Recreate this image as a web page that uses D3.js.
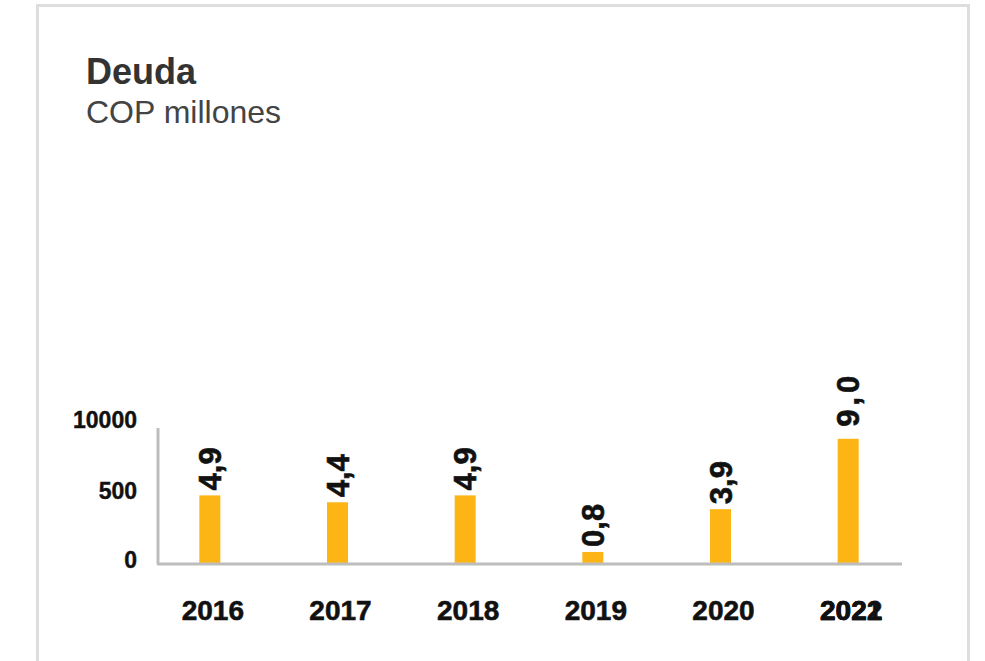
<!DOCTYPE html>
<html>
<head>
<meta charset="utf-8">
<script src="https://cdn.jsdelivr.net/npm/d3@7"></script>
<style>
  body { margin: 0; background: #fff; }
  svg { display: block; }
</style>
</head>
<body>
<script>
(function (){

    //chart data
    var years = ["2016", "2017", "2018", "2019", "2020", "2022"];
    var deuda = [4.9, 4.4, 4.9, 0.8, 3.9, 9.0];
    var valueLabels = ["4,9", "4,4", "4,9", "0,8", "3,9", "9,0"];
    var tickValues = [0, 5, 10];
    var tickLabels = ["0", "500", "10000"];
    var hiddenYear = "2021"; //printed over the last year label

    window.onload = setChart();

    function setChart(){
        var width = 985,
            height = 661;

        var svg = d3.select("body")
            .append("svg")
            .attr("width", width)
            .attr("height", height);

        //outer frame
        svg.append("rect")
            .attr("x", 37.5)
            .attr("y", 5.5)
            .attr("width", 931)
            .attr("height", 700)
            .attr("fill", "none")
            .attr("stroke", "#dedede")
            .attr("stroke-width", 3);

        //title
        svg.append("text")
            .attr("x", 86)
            .attr("y", 84)
            .style("font-family", "'Liberation Sans', Arial, sans-serif")
            .style("font-weight", "bold")
            .style("font-size", "36px")
            .style("fill", "#333")
            .text("Deuda");

        svg.append("text")
            .attr("x", 86)
            .attr("y", 123)
            .style("font-family", "'Liberation Sans', Arial, sans-serif")
            .style("font-size", "32px")
            .style("fill", "#444")
            .text("COP millones");

        //scales
        var x = d3.scaleBand()
            .domain(years)
            .range([146, 912]);

        var y = d3.scaleLinear()
            .domain([0, 10])
            .range([563, 425]);

        var barWidth = 21;

        //bars
        svg.selectAll(".bar")
            .data(deuda)
            .enter()
            .append("rect")
            .attr("class", "bar")
            .attr("x", function(d, i){ return x(years[i]) + x.bandwidth() / 2 - barWidth / 2; })
            .attr("y", function(d){ return y(d); })
            .attr("width", barWidth)
            .attr("height", function(d){ return y(0) - y(d); })
            .style("fill", "#fdb515");

        //value labels, rotated
        svg.selectAll(".valLabel")
            .data(deuda)
            .enter()
            .append("text")
            .attr("class", "valLabel")
            .attr("transform", function(d, i){
                var cx = x(years[i]) + x.bandwidth() / 2 + 11;
                var top = y(d) - (i == 5 ? 12 : 5);
                return "translate(" + cx + "," + top + ") rotate(-90)";
            })
            .style("font-family", "'Liberation Sans', Arial, sans-serif")
            .style("font-weight", "bold")
            .style("font-size", "31px")
            .style("letter-spacing", function(d, i){ return i == 5 ? "4px" : "0px"; })
            .style("fill", "#111")
            .style("stroke", "#111")
            .style("stroke-width", 0.6)
            .text(function(d, i){ return valueLabels[i]; });

        //y axis
        var yAxis = d3.axisLeft(y)
            .tickValues(tickValues)
            .tickSize(0)
            .tickPadding(21)
            .tickFormat(function(d, i){ return tickLabels[i]; });

        var gy = svg.append("g")
            .attr("transform", "translate(158,0)")
            .call(yAxis);
        gy.select(".domain").remove();
        gy.selectAll("text")
            .attr("dy", function(d, i){ return i == 2 ? "0.1em" : "0.2em"; })
            .style("font-family", "'Liberation Sans', Arial, sans-serif")
            .style("font-weight", "bold")
            .style("font-size", "23px")
            .style("fill", "#111")
            .style("stroke", "#111")
            .style("stroke-width", 0.4);

        //axis lines
        svg.append("line")
            .attr("x1", 158).attr("x2", 158)
            .attr("y1", 428).attr("y2", 564)
            .attr("stroke", "#bdbdbd")
            .attr("stroke-width", 3);

        svg.append("line")
            .attr("x1", 157).attr("x2", 902)
            .attr("y1", 564).attr("y2", 564)
            .attr("stroke", "#bdbdbd")
            .attr("stroke-width", 3);

        //x labels
        var xAxis = d3.axisBottom(x)
            .tickSize(0)
            .tickPadding(0);

        var gx = svg.append("g")
            .attr("transform", "translate(3,620)")
            .call(xAxis);
        gx.select(".domain").remove();
        gx.selectAll("text")
            .attr("dy", 0)
            .style("font-family", "'Liberation Sans', Arial, sans-serif")
            .style("font-weight", "bold")
            .style("font-size", "28px")
            .style("fill", "#111")
            .style("stroke", "#111")
            .style("stroke-width", 0.6);

        //overlapping label at last position
        svg.append("text")
            .attr("x", x(years[5]) + x.bandwidth() / 2 + 3)
            .attr("y", 620)
            .attr("text-anchor", "middle")
            .style("font-family", "'Liberation Sans', Arial, sans-serif")
            .style("font-weight", "bold")
            .style("font-size", "28px")
            .style("fill", "#111")
            .style("stroke", "#111")
            .style("stroke-width", 0.6)
            .text(hiddenYear);
    }

})();
</script>
</body>
</html>
